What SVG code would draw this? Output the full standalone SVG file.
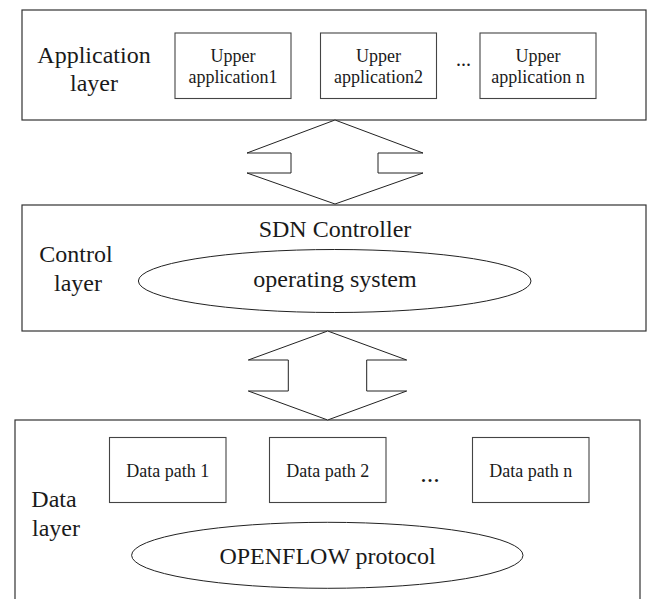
<svg xmlns="http://www.w3.org/2000/svg" width="648" height="599" viewBox="0 0 648 599">
<style>
.layer{fill:#fff;stroke:#333;stroke-width:1.2}
.box{fill:#fff;stroke:#444;stroke-width:1.1}
.ell{fill:#fff;stroke:#222;stroke-width:1}
.arrow{fill:#fff;stroke:#222;stroke-width:1}
text{font-family:'Liberation Serif','DejaVu Serif',serif;fill:#1a1a1a;text-anchor:middle}
.big{font-size:24px}
.small{font-size:18px}
</style>
<rect width="648" height="599" fill="#fff"/>
<g font-family="Liberation Serif, DejaVu Serif, serif">
<g id="application-layer">
<rect class="layer" x="22" y="10" width="624" height="110"/>
<text class="big" x="94" y="63">Application</text>
<text class="big" x="94" y="91">layer</text>
</g>
<g id="upper-app-1">
<rect class="box" x="175" y="33" width="116" height="65.5"/>
<text class="small" x="233" y="61.5">Upper</text>
<text class="small" x="233" y="83">application1</text>
</g>
<g id="upper-app-2">
<rect class="box" x="320.5" y="33" width="116" height="65.5"/>
<text class="small" x="378.5" y="61.5">Upper</text>
<text class="small" x="378.5" y="83">application2</text>
</g>
<text class="small" x="463.5" y="66" style="font-size:20px">...</text>
<g id="upper-app-n">
<rect class="box" x="480" y="33" width="116" height="65.5"/>
<text class="small" x="538" y="61.5">Upper</text>
<text class="small" x="538" y="83">application n</text>
</g>
<g id="control-layer">
<rect class="layer" x="22" y="205" width="624" height="126"/>
<text class="big" x="76" y="262">Control</text>
<text class="big" x="78" y="291">layer</text>
<text class="big" x="335" y="237">SDN Controller</text>
</g>
<g id="operating-system">
<ellipse class="ell" cx="334.7" cy="281" rx="196.3" ry="31.5"/>
<text class="big" x="335" y="287">operating system</text>
</g>
<g id="data-layer">
<rect class="layer" x="15" y="420" width="625" height="185"/>
<text class="big" x="54" y="507">Data</text>
<text class="big" x="56" y="536">layer</text>
</g>
<g id="data-path-1">
<rect class="box" x="109.5" y="437.5" width="116.5" height="65"/>
<text class="small" x="167.7" y="477">Data path 1</text>
</g>
<g id="data-path-2">
<rect class="box" x="269.5" y="437.5" width="116.5" height="65"/>
<text class="small" x="327.7" y="477">Data path 2</text>
</g>
<text class="small" x="430" y="482" style="font-size:26px">...</text>
<g id="data-path-n">
<rect class="box" x="472.5" y="437.5" width="116.5" height="65"/>
<text class="small" x="530.7" y="477">Data path n</text>
</g>
<g id="openflow">
<ellipse class="ell" cx="327.3" cy="555.3" rx="195.7" ry="33"/>
<text class="big" x="327.5" y="563.5">OPENFLOW protocol</text>
</g>
</g>
<g id="connectors">
<polygon class="arrow" points="335,120 423,153 378,153 378,173 423,173 335,204 247,173 291,173 291,153 247,153"/>
<polygon class="arrow" points="327.7,331 406.7,360 366.7,360 366.7,391 406.7,391 327.7,420 248.3,391 288.3,391 288.3,360 248.3,360"/>
</g>
</svg>
